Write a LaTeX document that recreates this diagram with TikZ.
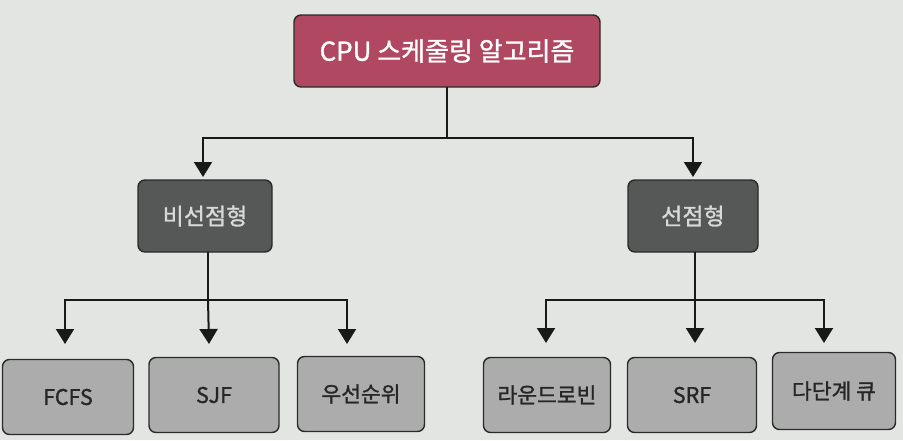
\documentclass[tikz,border=0pt]{standalone}
\usepackage{fontspec}
\newfontfamily\kr[FakeBold=1.2]{Noto Sans CJK KR}
\usetikzlibrary{arrows.meta}
\definecolor{bg}{HTML}{E3E5E2}
\definecolor{rootc}{HTML}{B14862}
\definecolor{darkc}{HTML}{565757}
\definecolor{leafc}{HTML}{ABACAB}
\definecolor{edgec}{HTML}{2A2A2A}
\begin{document}
\begin{tikzpicture}[x=1pt,y=-1pt,
  box/.style={draw=edgec,line width=1.4pt,rounded corners=7pt,font=\kr},
  rootbox/.style={box,fill=rootc,text=white,minimum width=306pt,minimum height=72pt,font=\kr\fontsize{26}{30}\selectfont},
  midbox/.style={box,fill=darkc,text=white!85!black,minimum width=134pt,minimum height=72pt,font=\kr\fontsize{23}{26}\selectfont},
  leafbox/.style={box,fill=leafc,text=black!85,minimum width=128pt,minimum height=75pt,font=\kr\fontsize{21.5}{24}\selectfont},
  conn/.style={draw=black!90,line width=2pt},
  arr/.style={conn,-{Triangle[width=18pt,length=15pt]}}]
\fill[bg] (0,0) rectangle (903,440);
\useasboundingbox (0,0) rectangle (903,440);
\node[rootbox] (root) at (447,51) {CPU 스케줄링 알고리즘};
\node[midbox] (np) at (205,216) {비선점형};
\node[midbox,minimum width=130pt] (p) at (693,216) {선점형};
\node[leafbox,minimum width=131pt] (fcfs) at (68,397) {FCFS};
\node[leafbox,minimum width=130pt] (sjf) at (214,395) {SJF};
\node[leafbox,minimum width=127pt] (prio) at (361,394) {우선순위};
\node[leafbox,minimum width=127pt] (rr) at (547,395) {라운드로빈};
\node[leafbox,minimum width=129pt] (srf) at (692,395) {SRF};
\node[leafbox,minimum width=123pt,minimum height=77pt] (mlq) at (834,391) {다단계 큐};
% junction points
\coordinate (r0) at (447,87);
\coordinate (r1) at (447,138);
\coordinate (n0) at (208,252);
\coordinate (n1) at (208,300);
\coordinate (p0) at (695,252);
\coordinate (p1) at (695,300);
% arrow ends
\coordinate (tnp) at (203,177);
\coordinate (tp) at (693,177);
\coordinate (tf) at (65,344);
\coordinate (ts) at (209,344);
\coordinate (tq) at (347,344);
\coordinate (tr) at (546,343);
\coordinate (tsr) at (695,343);
\coordinate (tm) at (824,343);
\draw[conn] (r0) -- (r1);
\draw[arr] (r1) -| (tnp);
\draw[arr] (r1) -| (tp);
\draw[conn] (n0) -- (n1);
\draw[arr] (n1) -| (tf);
\draw[arr] (n1) -- (ts);
\draw[arr] (n1) -| (tq);
\draw[conn] (p0) -- (p1);
\draw[arr] (p1) -| (tr);
\draw[arr] (p1) -- (tsr);
\draw[arr] (p1) -| (tm);
\end{tikzpicture}
\end{document}
